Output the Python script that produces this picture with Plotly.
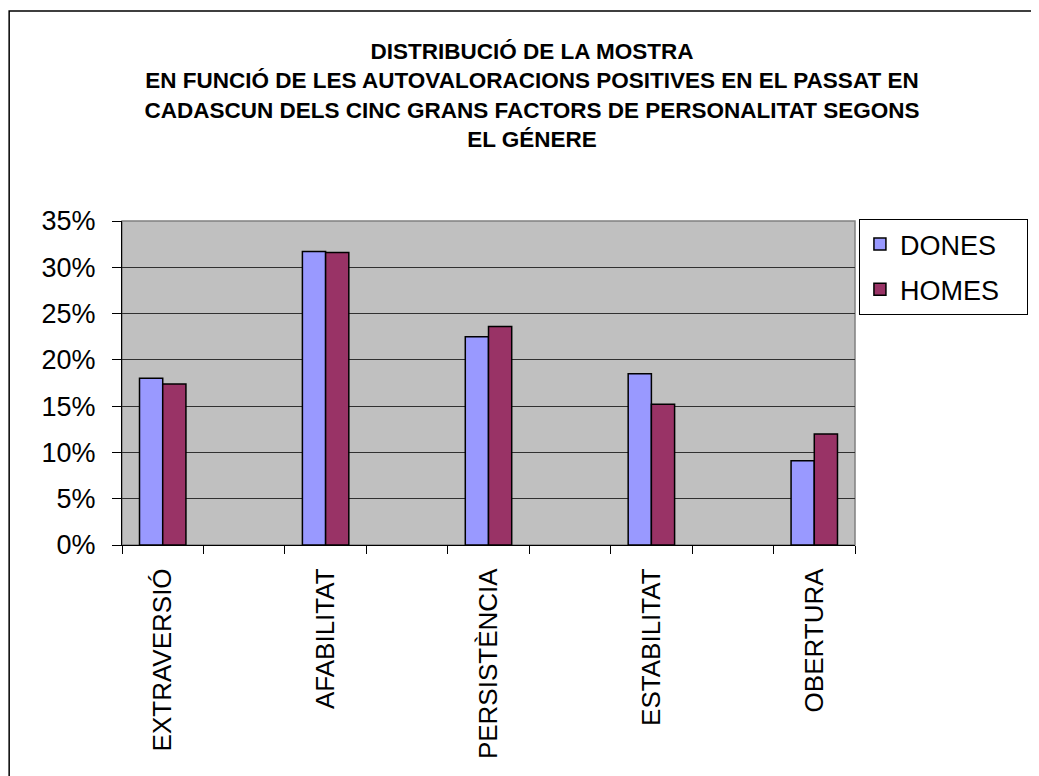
import plotly.graph_objects as go

categories = ["EXTRAVERSIÓ", "AFABILITAT", "PERSISTÈNCIA", "ESTABILITAT", "OBERTURA"]
dones = [0.180, 0.317, 0.225, 0.185, 0.091]
homes = [0.174, 0.316, 0.236, 0.152, 0.120]
series_names = ["DONES", "HOMES"]
y_ticks = [0, 0.05, 0.10, 0.15, 0.20, 0.25, 0.30, 0.35]
y_tick_labels = ["0%", "5%", "10%", "15%", "20%", "25%", "30%", "35%"]
title_lines = [
    "DISTRIBUCIÓ DE LA MOSTRA",
    "EN FUNCIÓ DE LES AUTOVALORACIONS POSITIVES EN EL PASSAT EN",
    "CADASCUN DELS CINC GRANS FACTORS DE PERSONALITAT SEGONS",
    "EL GÉNERE",
]

# interleave empty spacer categories (as in the original chart)
x_full, d_full, h_full = [], [], []
for i, c in enumerate(categories):
    x_full.append(c)
    d_full.append(dones[i])
    h_full.append(homes[i])
    if i < len(categories) - 1:
        x_full.append(" " * (i + 1))
        d_full.append(None)
        h_full.append(None)

W, H = 1031, 768
L, R, T, B = 114, 183, 213, 231
PW, PH = W - L - R, H - T - B
PAD = "\u00a0\u00a0\u00a0"

fig = go.Figure()
fig.add_trace(go.Bar(x=x_full, y=d_full, name=series_names[0] + PAD, legendgroup="a",
                     marker=dict(color="#9999FF", line=dict(color="black", width=1.5))))
fig.add_trace(go.Bar(x=x_full, y=h_full, name=series_names[1] + PAD, legendgroup="b",
                     marker=dict(color="#993366", line=dict(color="black", width=1.5))))

fig.update_layout(
    width=W, height=H,
    margin=dict(l=L, r=R, t=T, b=B),
    paper_bgcolor="white",
    plot_bgcolor="#C0C0C0",
    font=dict(family="Arial, Liberation Sans, sans-serif", color="black"),
    barmode="group",
    bargap=0.43,
    bargroupgap=0,
    title=dict(
        text="<br>".join(title_lines),
        x=524 / W, xref="container", xanchor="center",
        y=1 - 51 / H, yref="container", yanchor="top",
        font=dict(size=22.5, family="Arial, Liberation Sans, sans-serif", color="black", weight="bold"),
    ),
    legend=dict(
        x=1.004, y=1.006, xanchor="left", yanchor="top",
        bgcolor="white", bordercolor="black", borderwidth=1,
        font=dict(size=27, color="black"),
        tracegroupgap=7,
        traceorder="grouped",
    ),
    showlegend=True,
)

fig.update_xaxes(
    type="category",
    categoryorder="array", categoryarray=x_full,
    range=[-0.5, len(x_full) - 0.5],
    tickson="boundaries",
    ticks="outside", ticklen=8, tickcolor="black", tickwidth=1,
    tickangle=-90,
    tickfont=dict(size=26, color="black"),
    ticklabelstandoff=12,
    showline=True, linecolor="black", linewidth=1,
    showgrid=False,
)
fig.update_yaxes(
    range=[0, 0.35],
    tickvals=y_ticks, ticktext=y_tick_labels,
    ticks="outside", ticklen=9, tickcolor="black", tickwidth=1,
    tickfont=dict(size=27, color="black"),
    ticklabelstandoff=11,
    showline=True, linecolor="black", linewidth=1,
    showgrid=True, gridcolor="#303030", gridwidth=1,
    zeroline=False,
)

# plot-area outline (grey) and outer chart border
fig.add_shape(type="rect", xref="paper", yref="paper", x0=0, y0=0, x1=1, y1=1,
              line=dict(color="#808080", width=1.5), layer="below")
fig.add_shape(type="rect", xref="paper", yref="paper",
              x0=(1 - L) / PW, y0=-1.0, x1=1.4, y1=1 + (T - 3) / PH,
              line=dict(color="black", width=1.5))

fig.write_html("out.html")
